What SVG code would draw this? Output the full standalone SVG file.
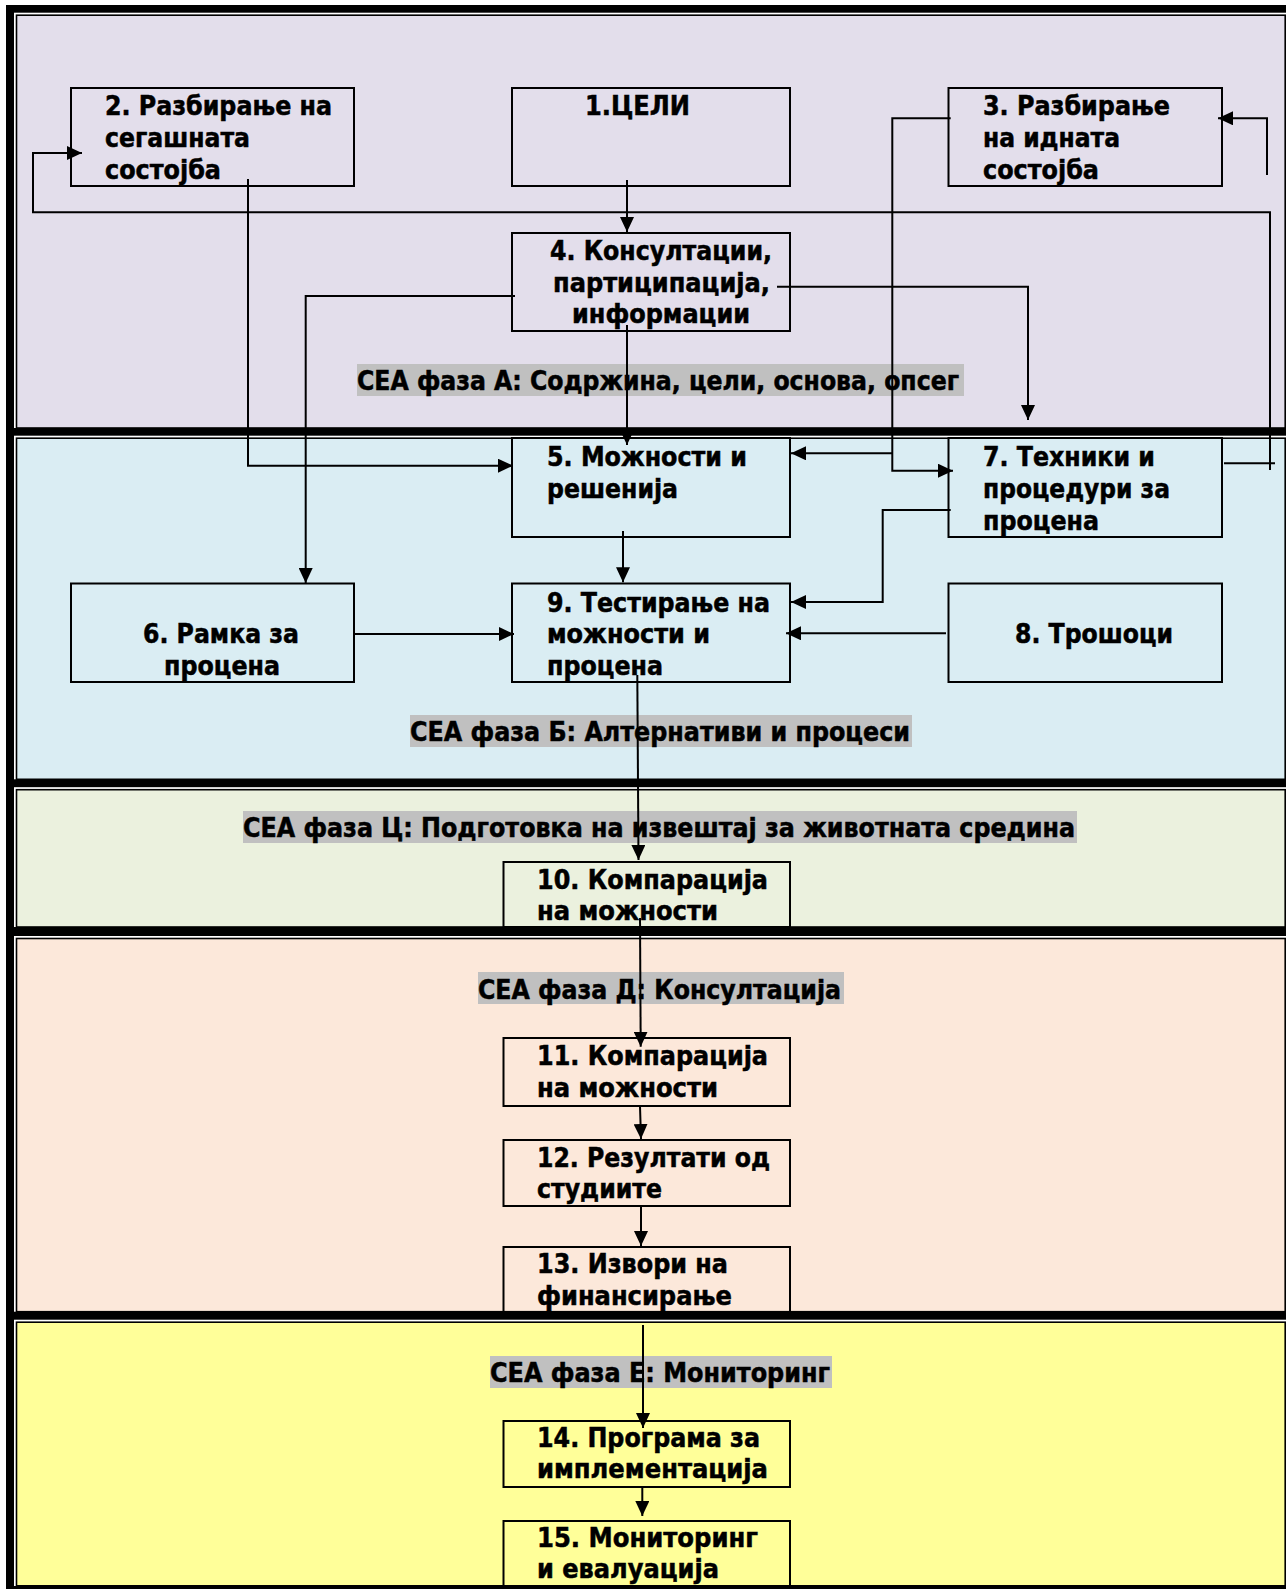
<svg xmlns="http://www.w3.org/2000/svg" width="1286" height="1589" viewBox="0 0 1286 1589">
<style>
.t{font-family:'DejaVu Sans Condensed','DejaVu Sans',sans-serif;font-weight:bold;font-size:27px;fill:#000;stroke:#000;stroke-width:0.5}
.nb{fill:none;stroke:#000;stroke-width:2}
.wg{fill:#fff}
.pf{stroke:#000;stroke-width:1.6}
.lb{fill:#C0C0C0}
.c{fill:none;stroke:#000;stroke-width:2}
</style>
<defs>
<marker id="ah" markerWidth="15" markerHeight="14" refX="15" refY="7" orient="auto" markerUnits="userSpaceOnUse">
<path d="M0,0 L15,7 L0,14 Z" fill="#000"/>
</marker>
</defs>
<g id="frame">
<rect x="6" y="5" width="1280" height="1584" fill="#000"/>
<rect class="wg" x="14" y="12.7" width="1272" height="415.3"/>
<rect class="pf" x="16.5" y="15.2" width="1268.7" height="412.8" fill="#E3DEEB"/>
<rect class="wg" x="14" y="435.7" width="1272" height="343.6"/>
<rect class="pf" x="16.5" y="438.2" width="1268.7" height="341.1" fill="#DAEDF3"/>
<rect class="wg" x="14" y="787.2" width="1272" height="139.8"/>
<rect class="pf" x="16.5" y="789.7" width="1268.7" height="137.3" fill="#EBF1DE"/>
<rect class="wg" x="14" y="936" width="1272" height="375.7"/>
<rect class="pf" x="16.5" y="938.5" width="1268.7" height="373.2" fill="#FCE8DA"/>
<rect class="wg" x="14" y="1319.7" width="1272" height="266.3"/>
<rect class="pf" x="16.5" y="1322.2" width="1268.7" height="263.6" fill="#FFFF99"/>
</g>
<g id="phase-labels">
<rect class="lb" x="357" y="364" width="607" height="32"/>
<text class="t" x="357" y="390" textLength="602" lengthAdjust="spacingAndGlyphs">СЕА фаза А: Содржина, цели, основа, опсег</text>
<rect class="lb" x="410" y="715" width="502" height="32"/>
<text class="t" x="410" y="741" textLength="500" lengthAdjust="spacingAndGlyphs">СЕА фаза Б: Алтернативи и процеси</text>
<rect class="lb" x="243" y="811" width="834" height="32"/>
<text class="t" x="243" y="837" textLength="832" lengthAdjust="spacingAndGlyphs">СЕА фаза Ц: Подготовка на извештај за животната средина</text>
<rect class="lb" x="478" y="972" width="366" height="32"/>
<text class="t" x="478" y="999" textLength="363" lengthAdjust="spacingAndGlyphs">СЕА фаза Д: Консултација</text>
<rect class="lb" x="490" y="1356" width="342" height="32"/>
<text class="t" x="490" y="1382" textLength="340" lengthAdjust="spacingAndGlyphs">СЕА фаза Е: Мониторинг</text>
</g>
<g id="node1">
<rect class="nb" x="512" y="88" width="278" height="98"/>
<text class="t" x="585" y="115" textLength="105" lengthAdjust="spacingAndGlyphs">1.ЦЕЛИ</text>
</g>
<g id="node2">
<rect class="nb" x="71" y="88" width="283" height="98"/>
<text class="t" x="105" y="115" textLength="227" lengthAdjust="spacingAndGlyphs">2. Разбирање на</text>
<text class="t" x="105" y="147" textLength="145" lengthAdjust="spacingAndGlyphs">сегашната</text>
<text class="t" x="105" y="179" textLength="116" lengthAdjust="spacingAndGlyphs">состојба</text>
</g>
<g id="node3">
<rect class="nb" x="948.5" y="88" width="273.5" height="98"/>
<text class="t" x="983" y="115" textLength="187" lengthAdjust="spacingAndGlyphs">3. Разбирање</text>
<text class="t" x="983" y="147" textLength="137" lengthAdjust="spacingAndGlyphs">на идната</text>
<text class="t" x="983" y="179" textLength="116" lengthAdjust="spacingAndGlyphs">состојба</text>
</g>
<g id="node4">
<rect class="nb" x="512" y="233" width="278" height="98"/>
<text class="t" x="550" y="260" textLength="222" lengthAdjust="spacingAndGlyphs">4. Консултации,</text>
<text class="t" x="553" y="292" textLength="217" lengthAdjust="spacingAndGlyphs">партиципација,</text>
<text class="t" x="572" y="323" textLength="178" lengthAdjust="spacingAndGlyphs">информации</text>
</g>
<g id="node5">
<rect class="nb" x="512" y="438" width="278" height="99"/>
<text class="t" x="547" y="466" textLength="200" lengthAdjust="spacingAndGlyphs">5. Можности и</text>
<text class="t" x="547" y="498" textLength="131" lengthAdjust="spacingAndGlyphs">решенија</text>
</g>
<g id="node6">
<rect class="nb" x="71" y="583.5" width="283" height="98.5"/>
<text class="t" x="143" y="643" textLength="156" lengthAdjust="spacingAndGlyphs">6. Рамка за</text>
<text class="t" x="164" y="675" textLength="116" lengthAdjust="spacingAndGlyphs">процена</text>
</g>
<g id="node7">
<rect class="nb" x="948.5" y="438" width="273.5" height="99"/>
<text class="t" x="983" y="466" textLength="172" lengthAdjust="spacingAndGlyphs">7. Техники и</text>
<text class="t" x="983" y="498" textLength="187" lengthAdjust="spacingAndGlyphs">процедури за</text>
<text class="t" x="983" y="530" textLength="116" lengthAdjust="spacingAndGlyphs">процена</text>
</g>
<g id="node8">
<rect class="nb" x="948.5" y="583.5" width="273.5" height="98.5"/>
<text class="t" x="1015" y="643" textLength="158" lengthAdjust="spacingAndGlyphs">8. Трошоци</text>
</g>
<g id="node9">
<rect class="nb" x="512" y="583.5" width="278" height="98.5"/>
<text class="t" x="547" y="612" textLength="223" lengthAdjust="spacingAndGlyphs">9. Тестирање на</text>
<text class="t" x="547" y="643" textLength="163" lengthAdjust="spacingAndGlyphs">можности и</text>
<text class="t" x="547" y="675" textLength="116" lengthAdjust="spacingAndGlyphs">процена</text>
</g>
<g id="node10">
<rect class="nb" x="503.5" y="862" width="286.5" height="65"/>
<text class="t" x="537" y="889" textLength="231" lengthAdjust="spacingAndGlyphs">10. Компарација</text>
<text class="t" x="537" y="920" textLength="181" lengthAdjust="spacingAndGlyphs">на можности</text>
</g>
<g id="node11">
<rect class="nb" x="503.5" y="1038" width="286.5" height="68"/>
<text class="t" x="537" y="1065" textLength="231" lengthAdjust="spacingAndGlyphs">11. Компарација</text>
<text class="t" x="537" y="1097" textLength="181" lengthAdjust="spacingAndGlyphs">на можности</text>
</g>
<g id="node12">
<rect class="nb" x="503.5" y="1140" width="286.5" height="66"/>
<text class="t" x="537" y="1167" textLength="233" lengthAdjust="spacingAndGlyphs">12. Резултати од</text>
<text class="t" x="537" y="1198" textLength="125" lengthAdjust="spacingAndGlyphs">студиите</text>
</g>
<g id="node13">
<rect class="nb" x="503.5" y="1247" width="286.5" height="65"/>
<text class="t" x="537" y="1273" textLength="191" lengthAdjust="spacingAndGlyphs">13. Извори на</text>
<text class="t" x="537" y="1305" textLength="195" lengthAdjust="spacingAndGlyphs">финансирање</text>
</g>
<g id="node14">
<rect class="nb" x="503.5" y="1421" width="286.5" height="66"/>
<text class="t" x="537" y="1447" textLength="223" lengthAdjust="spacingAndGlyphs">14. Програма за</text>
<text class="t" x="537" y="1478" textLength="231" lengthAdjust="spacingAndGlyphs">имплементација</text>
</g>
<g id="node15">
<rect class="nb" x="503.5" y="1521" width="286.5" height="65"/>
<text class="t" x="537" y="1547" textLength="221" lengthAdjust="spacingAndGlyphs">15. Мониторинг</text>
<text class="t" x="537" y="1578" textLength="182" lengthAdjust="spacingAndGlyphs">и евалуација</text>
</g>
<g id="connectors">
<path class="c" d="M627,180 V232" marker-end="url(#ah)"/>
<path class="c" d="M627,325 V445" marker-end="url(#ah)"/>
<path class="c" d="M515,296 H305.7 V583" marker-end="url(#ah)"/>
<path class="c" d="M777,286.7 H1028 V420" marker-end="url(#ah)"/>
<path class="c" d="M248,179 V465.7 H513" marker-end="url(#ah)"/>
<path class="c" d="M950.7,118.3 H892.3 V470.7 H953" marker-end="url(#ah)"/>
<path class="c" d="M892.3,453.3 H791" marker-end="url(#ah)"/>
<path class="c" d="M950.7,510 H882.7 V602 H791" marker-end="url(#ah)"/>
<path class="c" d="M946,633.3 H786" marker-end="url(#ah)"/>
<path class="c" d="M354.3,634 H514" marker-end="url(#ah)"/>
<path class="c" d="M623,531 V582.3" marker-end="url(#ah)"/>
<path class="c" d="M1224,463.3 H1275"/>
<path class="c" d="M1270,470 V212.3 H33 V153 H82" marker-end="url(#ah)"/>
<path class="c" d="M1267,175 V118.3 H1218" marker-end="url(#ah)"/>
<path class="c" d="M637.3,675 L638.5,860" marker-end="url(#ah)"/>
<path class="c" d="M640,918 L640.7,1046.7" marker-end="url(#ah)"/>
<path class="c" d="M640,1106 L641,1139" marker-end="url(#ah)"/>
<path class="c" d="M641,1206 V1246" marker-end="url(#ah)"/>
<path class="c" d="M643,1325 V1428" marker-end="url(#ah)"/>
<path class="c" d="M642.3,1486 V1516" marker-end="url(#ah)"/>
</g>
</svg>
